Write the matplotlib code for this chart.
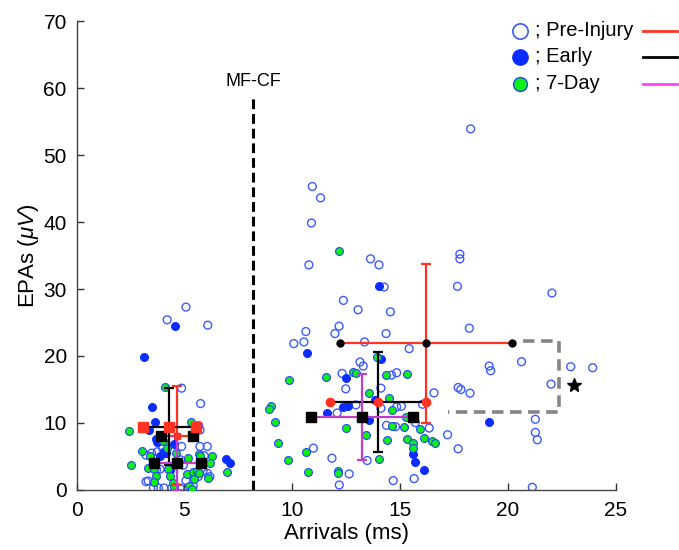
import matplotlib
matplotlib.use("Agg")
import matplotlib.pyplot as plt
import numpy as np

plt.rcParams['font.family'] = ['Liberation Sans', 'DejaVu Sans']
plt.rcParams['mathtext.fontset'] = 'custom'
plt.rcParams['mathtext.rm'] = 'Liberation Sans'
plt.rcParams['mathtext.it'] = 'Liberation Sans:italic'

# ---- scatter data (arrival ms, EPA uV) ----
pre_x = [10.93, 11.31, 10.89, 10.77, 13.63, 14.02, 14.26, 12.37, 13.05, 14.55,
         12.17, 11.98, 10.63, 10.07, 10.54, 14.35, 13.35, 15.42, 13.14, 13.29,
         12.31, 14.84, 14.60, 12.48, 14.11, 12.95, 12.08, 14.11, 14.84, 15.06,
         16.04, 16.57, 14.37, 14.79, 15.71, 16.35, 17.20, 17.69, 17.69, 17.82,
         18.24, 17.66, 17.77, 17.77, 18.21, 10.98, 11.84, 13.47, 12.64, 12.18,
         14.68, 15.65, 21.13, 18.27, 22.04, 20.63, 19.13, 19.20, 22.91, 23.93,
         22.00, 21.27, 21.27, 21.36,
         5.07, 4.20, 6.08, 4.87, 5.75, 5.66, 5.72, 4.87, 5.72, 6.06,
         3.74, 3.99, 4.10, 3.22, 3.48, 4.83, 3.71, 3.87, 4.56, 4.95,
         5.87, 6.06, 6.18, 5.64, 3.22, 3.32, 3.56, 3.79, 4.05, 4.41,
         4.79, 5.41, 5.07, 5.92]
pre_y = [45.3, 43.6, 39.85, 33.6, 34.5, 33.6, 30.3, 28.3, 26.9, 26.6,
         24.45, 23.35, 23.65, 21.85, 22.1, 23.35, 22.1, 21.1, 19.1, 18.5,
         17.4, 17.5, 17.15, 15.1, 15.2, 12.7, 11.5, 12.2, 12.4, 12.5,
         12.8, 14.5, 9.65, 9.45, 10.05, 9.25, 8.25, 6.15, 15.3, 15.0,
         14.45, 30.4, 35.2, 34.5, 24.15, 6.25, 4.75, 4.4, 2.4, 0.75,
         1.4, 1.7, 0.4, 53.9, 29.4, 19.15, 18.5, 17.8, 18.4, 18.25,
         15.8, 10.55, 8.6, 7.5,
         27.3, 25.4, 24.6, 15.2, 12.9, 9.6, 8.95, 6.5, 6.5, 6.5,
         5.7, 6.2, 5.7, 5.2, 5.5, 4.5, 3.0, 3.1, 3.7, 3.7,
         2.9, 2.5, 2.0, 2.0, 1.25, 1.35, 0.3, 0.3, 0.3, 0.3,
         0.3, 0.6, 1.4, 5.1]

early_x = [14.00, 10.69, 14.11, 12.48, 12.33, 12.57, 11.63, 13.85, 13.57, 15.61,
           15.70, 16.09, 19.10,
           4.56, 3.12, 3.51, 3.63, 3.37, 3.68, 3.74, 3.87, 4.53, 4.05,
           4.14, 3.87, 6.93, 7.11, 4.33]
early_y = [30.5, 20.5, 19.5, 16.7, 12.4, 12.6, 11.55, 13.5, 10.5, 5.35,
           4.25, 3.0, 10.1,
           24.5, 19.9, 12.4, 10.2, 8.95, 7.55, 7.2, 7.95, 6.85, 5.7,
           5.5, 5.0, 4.6, 4.1, 3.0]

day7_x = [12.18, 9.03, 8.92, 9.18, 9.33, 9.86, 11.56, 12.81, 12.95, 13.91,
          14.35, 15.32, 13.57, 14.50, 14.64, 12.48, 13.43, 14.64, 15.18, 15.30,
          15.58, 15.58, 15.90, 16.09, 16.50, 16.60, 14.38, 14.02, 10.62, 9.81,
          10.72, 12.14, 12.13, 15.26,
          4.10, 2.44, 5.29, 4.02, 3.05, 3.40, 4.18, 4.61, 5.18, 5.69,
          5.72, 6.26, 6.18, 2.51, 3.30, 3.59, 4.25, 5.13, 5.38, 5.57,
          5.67, 6.96, 3.68, 4.33, 3.59, 4.46, 4.52, 5.22, 5.34, 5.46, 6.08]
day7_y = [35.6, 12.5, 12.1, 10.15, 6.95, 16.4, 16.8, 17.6, 17.5, 19.9,
          17.1, 17.3, 14.5, 13.7, 11.9, 9.25, 8.15, 9.55, 9.35, 7.55,
          7.05, 6.25, 9.15, 7.75, 7.25, 7.05, 7.45, 4.65, 5.65, 4.45,
          2.7, 2.8, 2.5, 10.85,
          15.3, 8.8, 10.2, 7.35, 5.8, 5.1, 6.2, 5.5, 4.8, 5.4,
          5.0, 5.1, 4.1, 3.8, 3.3, 3.1, 3.2, 2.4, 2.7, 2.9,
          2.5, 2.7, 2.1, 2.1, 1.25, 1.1, 0.5, 0.6, 0.1, 1.6, 1.75]

# ---- group means +- SD (x mean, y mean, x sd, y sd) ----
cf_pre = (16.20, 21.9, 3.97, 11.9)
cf_early = (13.99, 13.13, 2.22, 7.4)
cf_day7 = (13.23, 10.85, 2.37, 6.4)
mf_pre = (4.64, 8.1, 0.74, 7.4)
mf_early = (4.30, 9.45, 1.24, 5.7)
mf_day7 = (4.67, 4.07, 1.08, 4.0)

mfcf_x = 8.18
mfcf_top = 58.5
bracket_x = [20.71, 22.36, 22.36, 17.23]
bracket_y = [22.2, 22.2, 11.69, 11.69]
star_xy = (23.06, 15.7)

RED = '#ff3322'
MAG = '#c23dc8'
BLUE_O = '#3a5cff'
BLUE_F = '#0a2cff'
GREEN = '#11ee11'

fig = plt.figure(figsize=(6.79, 5.5), dpi=100)
ax = fig.add_axes([0.1128, 0.1091, 0.7941, 0.8527])

ax.scatter(pre_x, pre_y, s=32, facecolors='none', edgecolors=BLUE_O, linewidths=1.0, zorder=2)
ax.scatter(early_x, early_y, s=32, facecolors=BLUE_F, edgecolors=BLUE_F, linewidths=0.8, zorder=3)
ax.scatter(day7_x, day7_y, s=32, facecolors=GREEN, edgecolors='#2244ff', linewidths=0.8, zorder=4)


def cross(g, lcol, mcol, mk, ms, ccol=None):
    mx, my, sx, sy = g
    ax.errorbar([mx], [my], yerr=[sy], fmt='none', ecolor=lcol, elinewidth=1.6,
                capsize=3.5, capthick=1.6, zorder=5)
    ax.plot([mx - sx, mx + sx], [my, my], color=lcol, lw=1.6, zorder=5)
    ax.plot([mx - sx, mx + sx], [my, my], ls='none', marker=mk, ms=ms,
            color=mcol, zorder=6)
    ax.plot([mx], [my], ls='none', marker=mk, ms=ms if ccol is None else 4,
            color=mcol if ccol is None else ccol, zorder=6)


cross(cf_pre, RED, 'k', 'o', 5)
cross(cf_early, 'k', RED, 'o', 6)
cross(cf_day7, MAG, 'k', 's', 7)
cross(mf_pre, RED, 'k', 's', 7, ccol=RED)
cross(mf_early, 'k', RED, 's', 7.5)
cross(mf_day7, MAG, 'k', 's', 7.5)

ax.plot([mfcf_x, mfcf_x], [0, mfcf_top], color='k', lw=2.2, dashes=(3.2, 1.6), zorder=1)
ax.text(mfcf_x, mfcf_top + 1.2, 'MF-CF', ha='center', va='bottom', fontsize=13)

ax.plot(bracket_x, bracket_y, color='#858585', lw=2.6, dashes=(3.2, 1.8), zorder=1)
ax.plot([star_xy[0]], [star_xy[1]], marker='*', ms=10, color='k', ls='none')

ax.set_xlim(0, 25)
ax.set_ylim(0, 70)
ax.set_xticks(np.arange(0, 26, 5))
ax.set_yticks(np.arange(0, 71, 10))
ax.spines['top'].set_visible(False)
ax.spines['right'].set_visible(False)
for s in ('left', 'bottom'):
    ax.spines[s].set_color('#444444')
    ax.spines[s].set_linewidth(1.0)
ax.tick_params(direction='in', length=5, width=1, labelsize=15, color='#333333')
ax.tick_params(axis='x', pad=8)
ax.tick_params(axis='y', pad=7)
ax.set_xlabel('Arrivals (ms)', fontsize=16, labelpad=2)
ax.set_ylabel('EPAs ($\\mu V$)', fontsize=16, labelpad=2)

# legend drawn manually: marker ; label  line
leg_y = [0.979, 0.924, 0.866]
leg_lab = ['; Pre-Injury', '; Early', '; 7-Day']
leg_lc = [RED, 'k', '#ff40ff']
ax.plot([0.823], [leg_y[0]], transform=ax.transAxes, marker='o', ms=11,
        mfc='white', mec=BLUE_O, mew=1.2, clip_on=False)
ax.plot([0.823], [leg_y[1]], transform=ax.transAxes, marker='o', ms=11,
        mfc=BLUE_F, mec=BLUE_F, clip_on=False)
ax.plot([0.823], [leg_y[2]], transform=ax.transAxes, marker='o', ms=10,
        mfc=GREEN, mec='#2244ff', mew=1.0, clip_on=False)
for yy, lab, lc in zip(leg_y, leg_lab, leg_lc):
    ax.text(0.850, yy, lab, transform=ax.transAxes, fontsize=14.5, va='center', ha='left')
    ax.plot([1.051, 1.113], [yy, yy], transform=ax.transAxes, color=lc, lw=2,
            clip_on=False)

fig.savefig('out.png', dpi=100)
